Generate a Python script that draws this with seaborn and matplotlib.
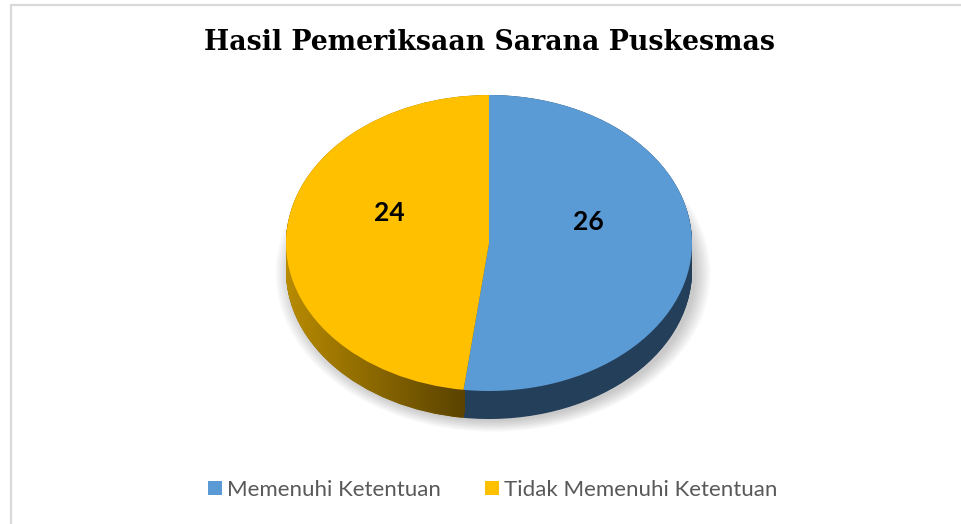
import numpy as np
import matplotlib
matplotlib.use("Agg")
import matplotlib.pyplot as plt
import seaborn as sns
from matplotlib.patches import Patch
from matplotlib.lines import Line2D
from matplotlib.colors import LinearSegmentedColormap

# data
categories = ["Memenuhi Ketentuan", "Tidak Memenuhi Ketentuan"]
values = [26, 24]
top_colors = ["#5B9BD5", "#FFC000"]
side_colors = ["#243F5A", "#8C6A00"]
title = "Hasil Pemeriksaan Sarana Puskesmas"

sns.set_theme(style="white")
plt.rcParams["font.family"] = ["Lato", "DejaVu Sans"]

W, H = 961, 524
fig = plt.figure(figsize=(W / 100, H / 100), dpi=100)
fig.patch.set_facecolor("white")

# pie axes: unit circle squashed into an ellipse (rx=203px, ry=148px)
cx, cy, rx, ry = 489, 243, 203, 148
lim = 1.25
ax = fig.add_axes([(cx - lim * rx) / W, (H - cy - lim * ry) / H,
                   2 * lim * rx / W, 2 * lim * ry / H])

depth = 28 / ry
# soft shadow under the disc
for s in np.linspace(0.07, 0.0, 7):
    ax.pie(values, colors=["#000000"] * 2, startangle=90, counterclock=False,
           radius=1.0 + s, center=(0.02, -depth - 0.015),
           wedgeprops=dict(linewidth=0, alpha=0.03, zorder=0.5))

# side wall, yellow part gets a horizontal gradient
side_cmap = LinearSegmentedColormap.from_list("side", ["#B88B00", "#8A6700", "#5A4300"])
grad = np.linspace(0, 1, 256).reshape(1, -1)
for off in np.linspace(-depth, 0, 40):
    w, _ = ax.pie(values, colors=side_colors, startangle=90, counterclock=False,
                  center=(0, off), wedgeprops=dict(linewidth=0, zorder=1))
    im = ax.imshow(grad, cmap=side_cmap, extent=(-1.0, -0.12, -1.3, 0.1),
                   aspect="auto", interpolation="bilinear", zorder=1.5)
    im.set_clip_path(w[1])

# top face
wedges, _, autotexts = ax.pie(
    values, colors=top_colors, startangle=90, counterclock=False,
    autopct=lambda p: f"{p * sum(values) / 100:.0f}", pctdistance=0.49,
    wedgeprops=dict(linewidth=0, zorder=3),
    textprops=dict(fontsize=19, fontweight="bold", color="black",
                   family=["Lato", "DejaVu Sans"], zorder=4))
for t in autotexts:
    x, y = t.get_position()
    t.set_position((x, y + 0.175))

ax.set_aspect("auto")
ax.set_xlim(-lim, lim)
ax.set_ylim(-lim, lim)
ax.set_axis_off()

# title
fig.text(cx / W, 1 - 43 / H, title, ha="center", va="center",
         fontsize=19.3, fontweight="bold", family="DejaVu Serif", color="black")

# legend
handles = [Patch(facecolor=c, edgecolor="none") for c in top_colors]
fig.legend(handles, categories, loc="center", bbox_to_anchor=(493 / W, 1 - 490 / H),
           ncol=2, frameon=False, handlelength=0.6, handleheight=0.6,
           handletextpad=0.25, columnspacing=2.0,
           prop=dict(family="Lato", size=16), labelcolor="#595959")

# chart border (top and left edges visible)
fig.add_artist(Line2D([10.5 / W, 1], [1 - 4.5 / H, 1 - 4.5 / H], color="#D9D9D9", lw=1.6))
fig.add_artist(Line2D([10.5 / W, 10.5 / W], [0, 1 - 4.5 / H], color="#D9D9D9", lw=1.6))

fig.savefig("out.png", dpi=100, facecolor="white")
